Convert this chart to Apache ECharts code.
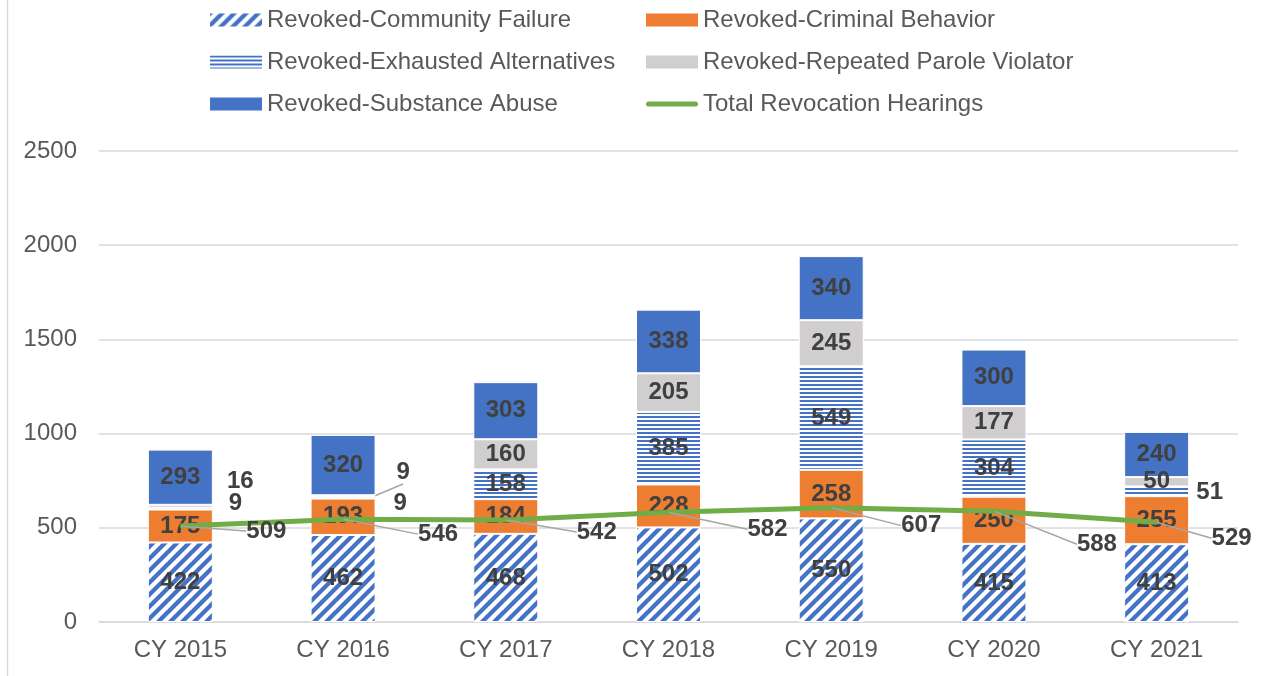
<!DOCTYPE html>
<html>
<head>
<meta charset="utf-8">
<script src="https://cdn.jsdelivr.net/npm/echarts@6/dist/echarts.min.js"></script>
<style>
html,body{margin:0;padding:0;background:#fff;}
#main{width:1266px;height:676px;}
</style>
</head>
<body>
<div id="main"></div>
<script>
// ---- data ----
var categories = ['CY 2015','CY 2016','CY 2017','CY 2018','CY 2019','CY 2020','CY 2021'];
var communityFailure   = [422, 462, 468, 502, 550, 415, 413];
var criminalBehavior   = [175, 193, 184, 228, 258, 250, 255];
var exhaustedAlts      = [9, 9, 158, 385, 549, 304, 51];
var repeatedViolator   = [16, 9, 160, 205, 245, 177, 50];
var substanceAbuse     = [293, 320, 303, 338, 340, 300, 240];
var totalHearings      = [509, 546, 542, 582, 607, 588, 529];
var yTicks = {min: 0, max: 2500, interval: 500};

// ---- label placement (layout only) ----
var lineLabelShift = [[86,5],[95,15],[91,12],[99,17],[90,18],[103,33],[75,16]];
var exhaustedShift = {0: [55,-5], 1: [57,6], 6: [53,1]};
var repeatedShift  = {0: [60,-25], 1: [60,-24]};
var repeatedLeader = {1: true};

var BLUE = '#4472C4', ORANGE = '#ED7D31', GRAY = '#D0CECE', GREEN = '#70AD47';

function diagPattern() {
  var s = 12, c = document.createElement('canvas');
  c.width = s; c.height = s;
  var g = c.getContext('2d');
  g.fillStyle = '#fff'; g.fillRect(0,0,s,s);
  g.strokeStyle = BLUE; g.lineWidth = 4.3;
  g.beginPath();
  g.moveTo(-1, s+1); g.lineTo(s+1, -1);
  g.moveTo(-3, 3); g.lineTo(3, -3);
  g.moveTo(s-3, s+3); g.lineTo(s+3, s-3);
  g.stroke();
  return {image: c, repeat: 'repeat'};
}
function horizPattern() {
  var c = document.createElement('canvas');
  c.width = 4; c.height = 4;
  var g = c.getContext('2d');
  g.fillStyle = '#fff'; g.fillRect(0,0,4,4);
  g.fillStyle = BLUE; g.fillRect(0,0,4,2);
  return {image: c, repeat: 'repeat'};
}

var labelBase = {
  show: true, color: '#404040', fontSize: 24, fontWeight: 'bold',
  fontFamily: 'Liberation Sans, Arial, sans-serif'
};

function barSeries(name, values, color, shift, leader) {
  var data = values.map(function (v, i) {
    return (leader && leader[i])
      ? {value: v, labelLine: {show: true, lineStyle: {color: '#A6A6A6', width: 1.5}}}
      : v;
  });
  return {
    name: name, type: 'bar', stack: 'rev', data: data, barWidth: 65,
    itemStyle: {color: color, borderColor: '#fff', borderWidth: 1},
    label: Object.assign({position: 'inside'}, labelBase),
    labelLayout: shift ? function (p) {
      var s = shift[p.dataIndex];
      return s ? {dx: s[0], dy: s[1]} : {};
    } : undefined,
    emphasis: {disabled: true}
  };
}

var legendText = {fontSize: 24, color: '#595959'};
var lineIcon = 'path://M2.5,0 L49.5,0 A2.5,2.5 0 0 1 49.5,5 L2.5,5 A2.5,2.5 0 0 1 2.5,0 Z';
var legendCommon = {
  top: 8, padding: 0, orient: 'vertical', itemWidth: 52, itemHeight: 13, itemGap: 18,
  icon: 'rect', itemStyle: {borderWidth: 0}, textStyle: legendText
};

var chart = echarts.init(document.getElementById('main'));
var option = {
  animation: false,
  textStyle: {fontFamily: 'Liberation Sans, Arial, sans-serif'},
  grid: {left: 99, right: 28, top: 151, bottom: 54},
  legend: [Object.assign({
    left: 210,
    data: ['Revoked-Community Failure','Revoked-Exhausted Alternatives','Revoked-Substance Abuse']
  }, legendCommon), Object.assign({
    left: 646,
    data: ['Revoked-Criminal Behavior','Revoked-Repeated Parole Violator',
           {name: 'Total Revocation Hearings', icon: lineIcon, itemStyle: {color: GREEN}}]
  }, legendCommon)],
  xAxis: {
    type: 'category', data: categories,
    axisLine: {lineStyle: {color: '#D9D9D9', width: 1.5}},
    axisTick: {show: false},
    axisLabel: {fontSize: 24, color: '#595959', margin: 16}
  },
  yAxis: {
    type: 'value', min: yTicks.min, max: yTicks.max, interval: yTicks.interval,
    axisLine: {show: false}, axisTick: {show: false},
    axisLabel: {fontSize: 24, color: '#595959', margin: 22, formatter: function (v) { return String(v); }},
    splitLine: {lineStyle: {color: '#D9D9D9', width: 1.5}}
  },
  graphic: [{
    type: 'line', shape: {x1: 7.5, y1: 0, x2: 7.5, y2: 676},
    style: {stroke: '#D9D9D9', lineWidth: 1.5}
  }],
  series: [
    barSeries('Revoked-Community Failure', communityFailure, diagPattern()),
    barSeries('Revoked-Criminal Behavior', criminalBehavior, ORANGE),
    barSeries('Revoked-Exhausted Alternatives', exhaustedAlts, horizPattern(), exhaustedShift),
    barSeries('Revoked-Repeated Parole Violator', repeatedViolator, GRAY, repeatedShift, repeatedLeader),
    barSeries('Revoked-Substance Abuse', substanceAbuse, BLUE),
    {
      name: 'Total Revocation Hearings', type: 'line', data: totalHearings, z: 5,
      symbol: 'circle', symbolSize: 1,
      itemStyle: {color: GREEN},
      lineStyle: {color: GREEN, width: 5},
      label: Object.assign({position: 'inside'}, labelBase),
      labelLayout: function (p) {
        var s = lineLabelShift[p.dataIndex];
        return {dx: s[0], dy: s[1]};
      },
      labelLine: {show: true, lineStyle: {color: '#A6A6A6', width: 1.5}},
      emphasis: {disabled: true}
    }
  ]
};
chart.setOption(option);
</script>
</body>
</html>
